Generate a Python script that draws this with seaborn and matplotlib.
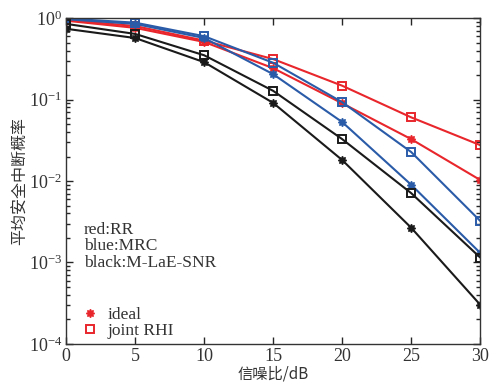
import numpy as np
import pandas as pd
import matplotlib
matplotlib.use("Agg")
import matplotlib.pyplot as plt
from matplotlib.lines import Line2D
from matplotlib.ticker import LogLocator, NullFormatter, FixedLocator
import seaborn as sns

# Datos
snr_db = [0, 5, 10, 15, 20, 25, 30]

rr_ideal = [0.93, 0.76, 0.51, 0.243, 0.090, 0.0327, 0.0103]
rr_joint = [0.95, 0.80, 0.53, 0.314, 0.148, 0.0605, 0.0276]
mrc_ideal = [0.97, 0.85, 0.57, 0.205, 0.053, 0.0090, 0.00131]
mrc_joint = [0.99, 0.88, 0.60, 0.283, 0.093, 0.0227, 0.00324]
mlae_ideal = [0.74, 0.57, 0.288, 0.091, 0.0181, 0.00267, 0.000303]
mlae_joint = [0.85, 0.64, 0.35, 0.128, 0.0327, 0.0071, 0.00115]

scheme_labels = ["red:RR", "blue:MRC", "black:M-LaE-SNR"]
legend_labels = ["ideal", "joint RHI"]

RED = "#e8262b"
BLUE = "#2a5ba8"
BLACK = "#1a1a1a"

series = [
    ("RR", "ideal", rr_ideal, RED),
    ("RR", "joint", rr_joint, RED),
    ("MRC", "ideal", mrc_ideal, BLUE),
    ("MRC", "joint", mrc_joint, BLUE),
    ("MLaE", "ideal", mlae_ideal, BLACK),
    ("MLaE", "joint", mlae_joint, BLACK),
]

rows = []
for scheme, kind, vals, _ in series:
    for x, v in zip(snr_db, vals):
        rows.append({"snr": x, "pout": v, "scheme": scheme, "kind": kind})
df = pd.DataFrame(rows)

sns.set_style("ticks")
plt.rcParams["font.family"] = ["Liberation Serif", "Noto Sans CJK SC", "DejaVu Sans"]
plt.rcParams["mathtext.fontset"] = "stix"

STAR = (8, 1, 0)

fig = plt.figure(figsize=(4.9, 3.86), dpi=100)
ax = fig.add_axes([0.135, 0.109, 0.845, 0.844])

for scheme, kind, _, color in series:
    sub = df[(df["scheme"] == scheme) & (df["kind"] == kind)]
    if kind == "ideal":
        mk = dict(marker=STAR, markersize=6, markerfacecolor=color,
                  markeredgecolor=color, markeredgewidth=1.0)
    else:
        mk = dict(marker="s", markersize=5.5, markerfacecolor="none",
                  markeredgecolor=color, markeredgewidth=1.4)
    sns.lineplot(data=sub, x="snr", y="pout", ax=ax, color=color,
                 linewidth=1.5, legend=False, **mk)

ax.set_yscale("log")
ax.set_xlim(0, 30)
ax.set_ylim(1e-4, 1)
ax.xaxis.set_major_locator(FixedLocator(snr_db))
ax.yaxis.set_major_locator(LogLocator(base=10, numticks=10))
ax.yaxis.set_minor_locator(LogLocator(base=10, subs=np.arange(2, 10), numticks=10))
ax.yaxis.set_minor_formatter(NullFormatter())

ax.tick_params(which="both", direction="in", top=True, right=True,
               labelsize=13, width=1.0, labelcolor="#333333")
ax.tick_params(which="major", length=5, pad=3)
ax.tick_params(which="minor", length=3)
for sp in ax.spines.values():
    sp.set_linewidth(1.0)
    sp.set_color("#333333")

ax.set_xlabel("信噪比/dB", family=["Noto Sans CJK SC", "DejaVu Sans"],
              fontsize=11, labelpad=0, color="#333333")
ax.set_ylabel("平均安全中断概率", family=["Noto Sans CJK SC", "DejaVu Sans"],
              fontsize=11.5, labelpad=0, color="#333333")

ax.text(0.043, 0.375, "\n".join(scheme_labels), transform=ax.transAxes,
        fontsize=12.5, va="top", ha="left", linespacing=1.05, color="#333333")

handles = [
    Line2D([], [], linestyle="none", marker=STAR, markersize=6,
           markerfacecolor=RED, markeredgecolor=RED),
    Line2D([], [], linestyle="none", marker="s", markersize=5.5,
           markerfacecolor="none", markeredgecolor=RED, markeredgewidth=1.4),
]
leg = ax.legend(handles, legend_labels, loc="lower left", frameon=False,
                fontsize=12.5, handlelength=0.8, handletextpad=0.6,
                labelspacing=-0.05, borderaxespad=0.0,
                bbox_to_anchor=(0.025, -0.005))
for t in leg.get_texts():
    t.set_color("#333333")

fig.savefig("out.png", dpi=100)
